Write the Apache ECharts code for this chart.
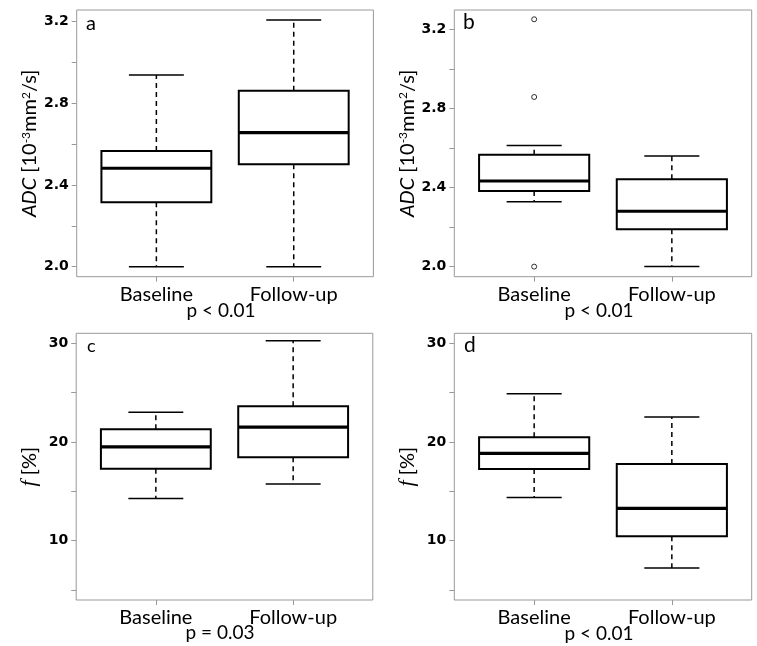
<!DOCTYPE html>
<html>
<head>
<meta charset="utf-8">
<script src="https://cdn.jsdelivr.net/npm/echarts@6/dist/echarts.min.js"></script>
<style>
html,body{margin:0;padding:0;background:#fff;}
#chart{width:757px;height:646px;}
</style>
</head>
<body>
<div id="chart"></div>
<script>
// ---- data ----
const categories = ['Baseline', 'Follow-up'];
// [min(whisker), Q1, median, Q3, max(whisker)]
const adcBoxA = [[2.00, 2.316, 2.482, 2.567, 2.939], [2.00, 2.502, 2.657, 2.861, 3.208]];
const adcBoxB = [[2.328, 2.383, 2.433, 2.566, 2.612], [2.00, 2.189, 2.280, 2.442, 2.559]];
const adcOutliersB = [[1, 3.251], [1, 2.858], [1, 2.00]];
const fBoxC = [[14.28, 17.28, 19.51, 21.28, 23.00], [15.73, 18.44, 21.51, 23.61, 30.26]];
const fBoxD = [[14.38, 17.25, 18.84, 20.47, 24.89], [7.24, 10.46, 13.27, 17.76, 22.53]];
const adcTicks = [2.0, 2.2, 2.4, 2.6, 2.8, 3.0, 3.2];
const adcTickLabels = [2.0, 2.4, 2.8, 3.2];
const fTicks = [5, 10, 15, 20, 25, 30];
const fTickLabels = [10, 20, 30];
const pValues = ['p < 0.01', 'p < 0.01', 'p = 0.03', 'p < 0.01'];
const panelLetters = ['a', 'b', 'c', 'd'];

// ---- layout ----
const grids = [
  {left: 76.7, top: 10, width: 296.7, height: 266.7},
  {left: 454.3, top: 10, width: 297.4, height: 266.7},
  {left: 76.2, top: 333.3, width: 296.6, height: 266.7},
  {left: 454.3, top: 333.3, width: 297.4, height: 266.7}
];
const yRanges = [[1.951, 3.257], [1.949, 3.298], [3.99, 31.01], [3.99, 31.01]];
const boxes = [adcBoxA, adcBoxB, fBoxC, fBoxD];

const adcName = '{i|ADC} [10{sup|-3}mm{sup|2}/s]';
const fName = '{f|f} [%]';

function renderBox(params, api) {
  const x = api.value(0);
  const lo = api.value(1), q1 = api.value(2), md = api.value(3), q3 = api.value(4), hi = api.value(5);
  const pLo = api.coord([x, lo]), pQ1 = api.coord([x, q1]), pMd = api.coord([x, md]);
  const pQ3 = api.coord([x, q3]), pHi = api.coord([x, hi]);
  const bw = api.size([0.8, 0])[0];
  const cx = pMd[0];
  const h = bw / 2, c = bw / 4;
  const k = '#000';
  return {
    type: 'group',
    children: [
      {type: 'line', shape: {x1: cx, y1: pQ3[1], x2: cx, y2: pHi[1]}, style: {stroke: k, lineWidth: 1.5, lineDash: [5, 4]}},
      {type: 'line', shape: {x1: cx, y1: pQ1[1], x2: cx, y2: pLo[1]}, style: {stroke: k, lineWidth: 1.5, lineDash: [5, 4]}},
      {type: 'line', shape: {x1: cx - c, y1: pHi[1], x2: cx + c, y2: pHi[1]}, style: {stroke: k, lineWidth: 1.5}},
      {type: 'line', shape: {x1: cx - c, y1: pLo[1], x2: cx + c, y2: pLo[1]}, style: {stroke: k, lineWidth: 1.5}},
      {type: 'rect', shape: {x: cx - h, y: pQ3[1], width: bw, height: pQ1[1] - pQ3[1]}, style: {fill: '#fff', stroke: k, lineWidth: 2}},
      {type: 'line', shape: {x1: cx - h, y1: pMd[1], x2: cx + h, y2: pMd[1]}, style: {stroke: k, lineWidth: 3.2}}
    ]
  };
}

const richName = {
  i: {fontFamily: 'Lato', fontSize: 20, fontStyle: 'italic', color: '#000'},
  sup: {fontFamily: 'Lato', fontSize: 12, verticalAlign: 'top', color: '#000', padding: [0, 0, 8, 0]},
  f: {fontFamily: 'Liberation Serif', fontSize: 22, fontStyle: 'italic', color: '#000'}
};

const option = {
  backgroundColor: '#fff',
  animation: false,
  grid: grids.map(g => Object.assign({show: true, borderColor: '#999', borderWidth: 1, backgroundColor: 'transparent', containLabel: false}, g)),
  xAxis: grids.map((g, i) => ({
    type: 'value', gridIndex: i, min: 0.42, max: 2.58,
    axisLine: {show: false}, splitLine: {show: false},
    axisTick: {show: true, length: 5, customValues: [1, 2], lineStyle: {color: '#999'}},
    axisLabel: {customValues: [1, 2], formatter: v => categories[Math.round(v) - 1],
      fontFamily: 'Lato', fontSize: 20, color: '#000', margin: 8}
  })),
  yAxis: grids.map((g, i) => ({
    type: 'value', gridIndex: i, min: yRanges[i][0], max: yRanges[i][1],
    axisLine: {show: false}, splitLine: {show: false},
    axisTick: {show: true, length: 5, customValues: i < 2 ? adcTicks : fTicks, lineStyle: {color: '#999'}},
    axisLabel: {customValues: i < 2 ? adcTickLabels : fTickLabels,
      formatter: v => i < 2 ? v.toFixed(1) : String(v),
      fontFamily: 'DejaVu Sans', fontWeight: 'bold', fontSize: 14, color: '#000', margin: 8},
    name: i < 2 ? adcName : fName,
    nameLocation: 'middle', nameGap: 36,
    nameTextStyle: {fontFamily: 'Lato', fontSize: 20, color: '#000', rich: richName}
  })),
  series: boxes.map((b, i) => ({
    type: 'custom', xAxisIndex: i, yAxisIndex: i,
    data: b.map((r, j) => [j + 1].concat(r)),
    encode: {x: 0, y: [1, 2, 3, 4, 5]},
    renderItem: renderBox, clip: false, silent: true
  })).concat([{
    type: 'scatter', xAxisIndex: 1, yAxisIndex: 1, data: adcOutliersB,
    symbol: 'circle', symbolSize: 5, silent: true,
    itemStyle: {color: '#fff', borderColor: '#000', borderWidth: 1}
  }]),
  graphic: [
    {type: 'text', x: 86, y: 24, style: {text: panelLetters[0], fontFamily: 'Lato', fontSize: 20, fill: '#000', verticalAlign: 'middle'}},
    {type: 'text', x: 463, y: 22, style: {text: panelLetters[1], fontFamily: 'Lato', fontSize: 21, fill: '#000', verticalAlign: 'middle'}},
    {type: 'text', x: 87, y: 346, style: {text: panelLetters[2], fontFamily: 'Lato', fontSize: 18, fill: '#000', verticalAlign: 'middle'}},
    {type: 'text', x: 464, y: 345, style: {text: panelLetters[3], fontFamily: 'Lato', fontSize: 21, fill: '#000', verticalAlign: 'middle'}},
    {type: 'text', x: 221, y: 311, style: {text: pValues[0], fontFamily: 'Lato', fontSize: 19, fill: '#000', align: 'center', verticalAlign: 'middle'}},
    {type: 'text', x: 599, y: 311, style: {text: pValues[1], fontFamily: 'Lato', fontSize: 19, fill: '#000', align: 'center', verticalAlign: 'middle'}},
    {type: 'text', x: 220, y: 633, style: {text: pValues[2], fontFamily: 'Lato', fontSize: 19, fill: '#000', align: 'center', verticalAlign: 'middle'}},
    {type: 'text', x: 599, y: 634, style: {text: pValues[3], fontFamily: 'Lato', fontSize: 19, fill: '#000', align: 'center', verticalAlign: 'middle'}}
  ]
};

const chart = echarts.init(document.getElementById('chart'), null, {renderer: 'canvas'});
chart.setOption(option);
</script>
</body>
</html>
